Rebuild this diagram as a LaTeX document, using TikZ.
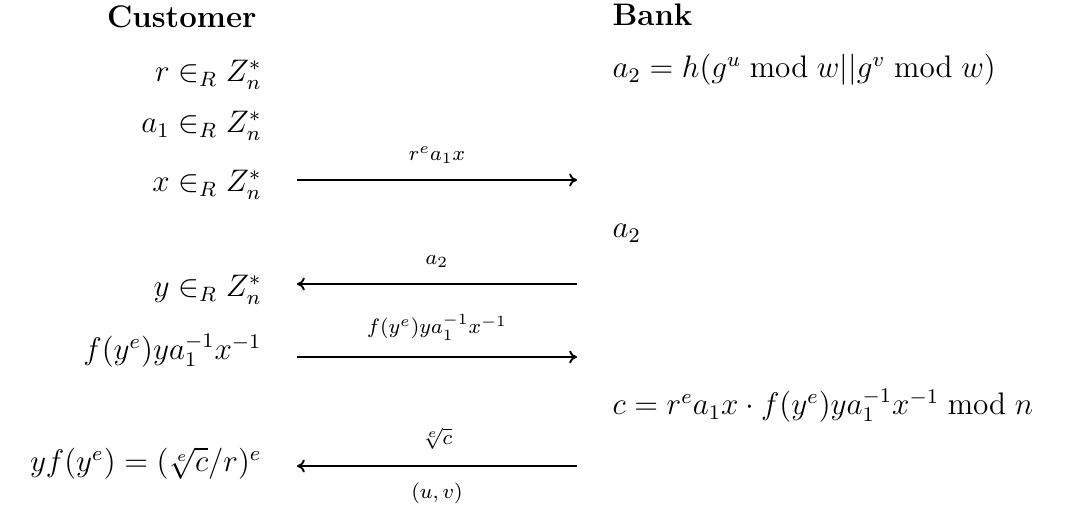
\documentclass[tikz,border=0pt,12pt]{standalone}
\usetikzlibrary{arrows.meta}
\begin{document}
\begin{tikzpicture}[x=0.385pt, y=-0.385pt,
    cust/.style={anchor=base east, inner sep=0pt},
    bank/.style={anchor=base west, inner sep=0pt},
    msg/.style={-{To[length=3pt,width=5pt]}, line width=0.7pt},
    lab/.style={font=\scriptsize, inner sep=1pt}]
  \useasboundingbox (0,0) rectangle (1073,507);

  % Intestazioni
  \node[cust, font=\bfseries] (cust) at (257,28) {Customer};
  \node[bank, font=\bfseries] (bank) at (612,26) {Bank};

  % Colonna cliente
  \node[cust] (r)  at (262,82)  {$r \in_R Z_n^*$};
  \node[cust] (a1) at (262,133) {$a_1 \in_R Z_n^*$};
  \node[cust] (x)  at (262,192) {$x \in_R Z_n^*$};
  \node[cust] (y)  at (262,297) {$y \in_R Z_n^*$};
  \node[cust] (f)  at (262,360) {$f(y^e)ya_1^{-1}x^{-1}$};
  \node[cust] (s)  at (262,472) {$yf(y^e) = (\sqrt[e]{c}/r)^e$};

  % Colonna banca
  \node[bank] (h)  at (612,78)  {$a_2 = h(g^u \bmod w || g^v \bmod w)$};
  \node[bank] (a2) at (612,238) {$a_2$};
  \node[bank] (c)  at (612,415) {$c = r^e a_1 x \cdot f(y^e)ya_1^{-1}x^{-1} \bmod n$};

  % Messaggi
  \coordinate (m1s) at (297,180); \coordinate (m1e) at (577,180);
  \coordinate (m2s) at (297,284); \coordinate (m2e) at (577,284);
  \coordinate (m3s) at (297,357); \coordinate (m3e) at (577,357);
  \coordinate (m4s) at (297,466); \coordinate (m4e) at (577,466);

  \draw[msg] (m1s) -- node[lab, above=5pt] (l1) {$r^e a_1 x$} (m1e);
  \draw[msg] (m2e) -- node[lab, above=5pt] (l2) {$a_2$} (m2s);
  \draw[msg] (m3s) -- node[lab, above=5pt] (l3) {$f(y^e)ya_1^{-1}x^{-1}$} (m3e);
  \draw[msg] (m4e) -- node[lab, above=5pt] (l4) {$\sqrt[e]{c}$}
                      node[lab, below=5pt] (l5) {$(u,v)$} (m4s);
\end{tikzpicture}
\end{document}
